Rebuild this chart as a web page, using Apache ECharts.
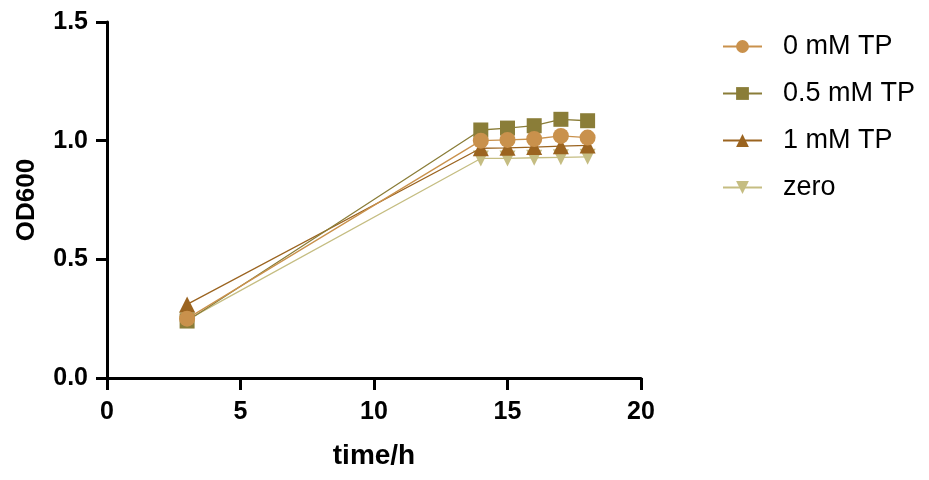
<!DOCTYPE html>
<html>
<head>
<meta charset="utf-8">
<script src="https://cdn.jsdelivr.net/npm/echarts@6/dist/echarts.min.js"></script>
<style>
  html, body { margin: 0; padding: 0; background: #fff; }
  #main { width: 929px; height: 480px; }
</style>
</head>
<body>
<div id="main"></div>
<script>
var hours = [3, 14, 15, 16, 17, 18];
var tp0 = [0.25, 1.0, 1.003, 1.007, 1.02, 1.013];
var tp05 = [0.24, 1.045, 1.053, 1.063, 1.09, 1.084];
var tp1 = [0.31, 0.968, 0.97, 0.973, 0.977, 0.98];
var zero = [0.245, 0.925, 0.925, 0.928, 0.93, 0.932];

function pairs(ys) {
    return hours.map(function (x, i) { return [x, ys[i]]; });
}

var chart = echarts.init(document.getElementById('main'));
var axisFont = {fontFamily: 'Liberation Sans, Arial', fontWeight: 'bold', fontSize: 25, color: '#000'};

function line(name, data, color, symbol, z, rotate) {
    return {
        name: name,
        type: 'line',
        data: pairs(data),
        symbol: symbol,
        symbolSize: symbol === 'rect' ? 15 : 16,
        symbolRotate: rotate || 0,
        z: z,
        lineStyle: {color: color, width: 1.3},
        itemStyle: {color: color, opacity: 1},
        emphasis: {disabled: true}
    };
}

chart.setOption({
    animation: false,
    grid: {left: 107, right: 288, top: 22, bottom: 102},
    legend: {
        orient: 'vertical',
        left: 717,
        top: 28,
        itemWidth: 39,
        itemHeight: 16,
        itemGap: 20,
        textStyle: {fontFamily: 'Liberation Sans, Arial', fontSize: 27, lineHeight: 27, color: '#000', padding: [0, 0, 0, 16]},
        data: ['0 mM TP', '0.5 mM TP', '1 mM TP', 'zero']
    },
    xAxis: {
        type: 'value',
        min: 0, max: 20, interval: 5,
        name: 'time/h',
        nameLocation: 'middle',
        nameGap: 64,
        nameTextStyle: {fontFamily: 'Liberation Sans, Arial', fontWeight: 'bold', fontSize: 28, color: '#000'},
        axisLine: {lineStyle: {color: '#000', width: 3}},
        axisTick: {show: true, length: 12, lineStyle: {width: 3, color: '#000'}},
        axisLabel: Object.assign({margin: 22}, axisFont),
        splitLine: {show: false}
    },
    yAxis: {
        type: 'value',
        min: 0, max: 1.5, interval: 0.5,
        name: 'OD600',
        nameLocation: 'middle',
        nameGap: 67,
        nameTextStyle: {fontFamily: 'Liberation Sans, Arial', fontWeight: 'bold', fontSize: 26, color: '#000'},
        axisLine: {show: true, lineStyle: {color: '#000', width: 3}},
        axisTick: {show: true, length: 11, lineStyle: {width: 3, color: '#000'}},
        axisLabel: Object.assign({margin: 19, formatter: function (v) { return v.toFixed(1); }}, axisFont),
        splitLine: {show: false}
    },
    series: [
        line('0 mM TP', tp0, '#C9914C', 'circle', 5),
        line('0.5 mM TP', tp05, '#8A7D38', 'rect', 4),
        line('1 mM TP', tp1, '#9B6420', 'triangle', 3),
        line('zero', zero, '#C5BD82', 'triangle', 2, 180)
    ]
});
</script>
</body>
</html>
